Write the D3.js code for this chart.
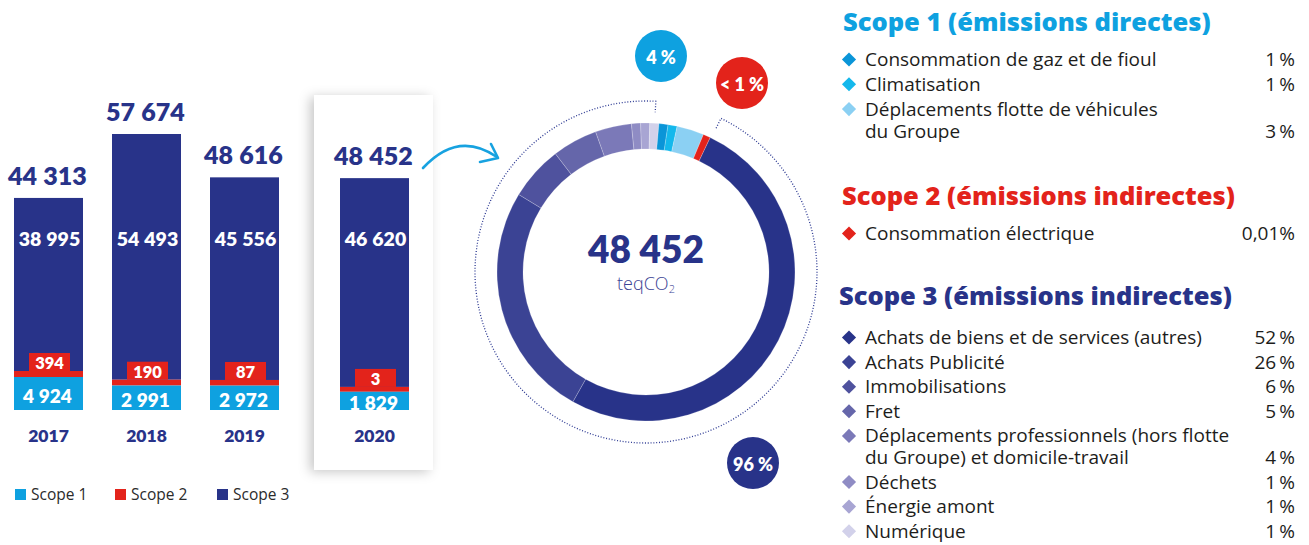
<!DOCTYPE html>
<html lang="fr">
<head>
<meta charset="utf-8">
<script src="https://cdn.jsdelivr.net/npm/d3@7"></script>
<style>
  html, body { margin: 0; padding: 0; background: #fff; }
  svg { display: block; font-family: Lato, "Open Sans", sans-serif; }
  .wide { font-family: "Open Sans", Lato, sans-serif; }
</style>
</head>
<body>
<svg id="chart" width="1309" height="545"></svg>
<script>
// ---- Emissions by year (teqCO2) ----
const years = [2017, 2018, 2019, 2020];
const scope1 = [4924, 2991, 2972, 1829];
const scope2 = [394, 190, 87, 3];
const scope3 = [38995, 54493, 45556, 46620];
const totals = [44313, 57674, 48616, 48452];
const highlightYear = 2020;

// ---- 2020 breakdown (% of total) ----
const scope1Items = [["Consommation de gaz et de fioul"], ["Climatisation"], ["Déplacements flotte de véhicules", "du Groupe"]];
const scope1Shares = [1, 1, 3];
const scope1Colors = ["#0a95d8", "#14b8ec", "#8bd0f3"];

const scope2Items = [["Consommation électrique"]];
const scope2Shares = [0.01];
const scope2Colors = ["#e3231b"];

const scope3Items = [["Achats de biens et de services (autres)"], ["Achats Publicité"], ["Immobilisations"], ["Fret"],
  ["Déplacements professionnels (hors flotte", "du Groupe) et domicile-travail"], ["Déchets"], ["Énergie amont"], ["Numérique"]];
const scope3Shares = [52, 26, 6, 5, 4, 1, 1, 1];
const scope3Colors = ["#283389", "#3b4394", "#4f529e", "#6566aa", "#7b79b8", "#8f8cc4", "#a8a5d3", "#d2d1ea"];

const scopeBadges = ["4 %", "< 1 %", "96 %"];
const scopeNames = ["Scope 1", "Scope 2", "Scope 3"];
const scopeTitles = ["Scope 1 (émissions directes)", "Scope 2 (émissions indirectes)", "Scope 3 (émissions indirectes)"];
const scopeColors = ["#0ea1e0", "#e3231b", "#283389"];
const grandTotal = "48 452";

const NAVY = "#283389";
const svg = d3.select("#chart");
const fmt = v => d3.format(",")(v).replace(/,/g, "\u202f");

const defs = svg.append("defs");
const shadow = defs.append("filter").attr("id", "panelShadow")
  .attr("x", "-30%").attr("y", "-10%").attr("width", "150%").attr("height", "120%");
shadow.append("feDropShadow").attr("dx", -4).attr("dy", 2).attr("stdDeviation", 6)
  .attr("flood-color", "#000").attr("flood-opacity", 0.22);

// ================= Stacked bars =================
const x = d3.scaleBand().domain(years).range([14, 377]).paddingInner(0.296).paddingOuter(0);
const xPos = yr => x(yr) + (yr === highlightYear ? 32 : 0);
const bw = x.bandwidth();
const baseY = 410;
const y = d3.scaleLinear().domain([0, d3.max(totals)]).range([baseY, 134]);
// small segments are drawn on compressed scales so they stay legible
const h1 = d3.scalePow().exponent(0.6).domain([0, d3.max(scope1)]).range([0, 33]);
const h2 = d3.scaleLog().domain([1, d3.max(scope2)]).range([4.6, 6]).clamp(true);

// highlight panel behind the latest year
svg.append("rect")
  .attr("x", xPos(highlightYear) - 26).attr("y", 95)
  .attr("width", bw + 50).attr("height", 375)
  .attr("fill", "#fff").attr("filter", "url(#panelShadow)");

const rows = years.map((yr, i) => {
  const s1Top = baseY - h1(scope1[i]);
  const s2Top = s1Top - h2(scope2[i]);
  return { yr, i, s1Top, s2Top, top: y(totals[i]) };
});

const g = svg.append("g");
const bars = g.selectAll("g.bar").data(rows).join("g").attr("class", "bar");

bars.append("rect").attr("x", d => xPos(d.yr)).attr("width", bw)
  .attr("y", d => d.top).attr("height", d => d.s2Top - d.top).attr("fill", NAVY);
bars.append("rect").attr("x", d => xPos(d.yr)).attr("width", bw)
  .attr("y", d => d.s2Top).attr("height", d => d.s1Top - d.s2Top).attr("fill", scopeColors[1]);
bars.append("rect").attr("x", d => xPos(d.yr)).attr("width", bw)
  .attr("y", d => d.s1Top).attr("height", d => baseY - d.s1Top).attr("fill", scopeColors[0]);

// scope 2 tag box
const tagW = 41, tagH = 18;
bars.append("rect").attr("x", d => xPos(d.yr) + bw / 2 - tagW / 2 + 1).attr("width", tagW)
  .attr("y", d => d.s2Top - tagH).attr("height", tagH).attr("fill", scopeColors[1]);
bars.append("text").attr("x", d => xPos(d.yr) + bw / 2 + 1).attr("y", d => d.s2Top - tagH / 2 + 1)
  .attr("text-anchor", "middle").attr("dominant-baseline", "central")
  .attr("fill", "#fff").attr("font-weight", 800).attr("font-size", 16.5)
  .text(d => fmt(scope2[d.i]));

// scope 3 value
bars.append("text").attr("x", d => xPos(d.yr) + bw / 2 + 1).attr("y", 246)
  .attr("text-anchor", "middle").attr("fill", "#fff").attr("font-weight", 800).attr("font-size", 19.5)
  .text(d => fmt(scope3[d.i]));

// scope 1 value
bars.append("text").attr("x", d => xPos(d.yr) + bw / 2 - 1).attr("y", d => (d.s1Top + baseY) / 2 + 2)
  .attr("text-anchor", "middle").attr("dominant-baseline", "central")
  .attr("fill", "#fff").attr("font-weight", 800).attr("font-size", 19)
  .text(d => fmt(scope1[d.i]));

// totals
bars.append("text").attr("x", d => xPos(d.yr) + bw / 2 - 1).attr("y", d => d.top - 13)
  .attr("text-anchor", "middle").attr("fill", NAVY).attr("font-weight", 800).attr("font-size", 25)
  .text(d => fmt(totals[d.i]));

// year axis labels
bars.append("text").attr("x", d => xPos(d.yr) + bw / 2).attr("y", 442)
  .attr("text-anchor", "middle").attr("fill", NAVY).attr("font-weight", 800).attr("font-size", 17.5)
  .text(d => d.yr);

// bar legend
const legX = [15, 115, 217];
const leg = svg.append("g").selectAll("g").data(scopeNames).join("g")
  .attr("transform", (d, i) => `translate(${legX[i]},489)`);
leg.append("rect").attr("width", 11).attr("height", 11).attr("fill", (d, i) => scopeColors[i]);
leg.append("text").attr("class", "wide").attr("x", 16).attr("y", 11).attr("font-size", 15.5)
  .attr("fill", "#2b2b2b").text(d => d);

// arrow to the donut
svg.append("path").attr("d", "M423,168 Q458,130 497,157")
  .attr("fill", "none").attr("stroke", "#17a2e0").attr("stroke-width", 2.6).attr("stroke-linecap", "round");
svg.append("path").attr("d", "M491,144 L498,158 L480,162")
  .attr("fill", "none").attr("stroke", "#17a2e0").attr("stroke-width", 2.6)
  .attr("stroke-linecap", "round").attr("stroke-linejoin", "round");

// ================= Donut =================
const cx = 646, cy = 272;
const slices = [
  ...scope3Shares.map((v, i) => ({ v, c: scope3Colors[i] })),
  ...scope1Shares.map((v, i) => ({ v, c: scope1Colors[i] })),
  ...scope2Shares.map((v, i) => ({ v, c: scope2Colors[i] }))
];
const deg = Math.PI / 180;
const minShare = 0.8; // smallest slice drawn so it stays visible
const pie = d3.pie().sort(null).value(d => Math.max(d.v, minShare))
  .startAngle(25.5 * deg).endAngle(25.5 * deg + 2 * Math.PI);
const arc = d3.arc().innerRadius(123).outerRadius(149);
const donut = svg.append("g").attr("transform", `translate(${cx},${cy})`);
donut.selectAll("path").data(pie(slices)).join("path")
  .attr("d", arc).attr("fill", d => d.data.c)
  .attr("stroke", "rgba(255,255,255,0.35)").attr("stroke-width", 0.6);

// dotted bracket around the ring
const rB = 171, a0 = 26 * deg, a1 = 363.3 * deg;
const p = d3.path();
const pt = (r, a) => [r * Math.sin(a), -r * Math.cos(a)];
p.moveTo(...pt(rB - 11, a0));
p.lineTo(...pt(rB, a0));
p.arc(0, 0, rB, a0 - Math.PI / 2, a1 - Math.PI / 2, false);
p.lineTo(...pt(rB - 11, a1));
donut.append("path").attr("d", p.toString()).attr("fill", "none")
  .attr("stroke", "#2d3a93").attr("stroke-width", 1.3).attr("stroke-dasharray", "1 1.8");

donut.append("text").attr("y", -9).attr("text-anchor", "middle")
  .attr("fill", NAVY).attr("font-weight", 800).attr("font-size", 37).text(grandTotal);
const unit = donut.append("text").attr("class", "wide").attr("y", 18).attr("text-anchor", "middle")
  .attr("fill", "#3b4394").attr("font-weight", 300).attr("font-size", 18);
unit.append("tspan").text("teqCO");
unit.append("tspan").attr("font-size", 11).attr("dy", 3).text("2");

// scope share badges
const badgePos = [[661, 56], [742, 83], [753, 463]];
const badges = svg.append("g").selectAll("g").data(scopeBadges).join("g")
  .attr("transform", (d, i) => `translate(${badgePos[i][0]},${badgePos[i][1]})`);
badges.append("circle").attr("r", 26).attr("fill", (d, i) => scopeColors[i]);
badges.append("text").attr("text-anchor", "middle").attr("dominant-baseline", "central").attr("y", 1)
  .attr("fill", "#fff").attr("font-weight", 800).attr("font-size", 18).text(d => d);

// ================= Breakdown legend =================
const pctFmt = v => v < 1 ? v.toFixed(2).replace(".", ",") + "%" : v + "\u2009%";
const groups = [
  { title: scopeTitles[0], color: scopeColors[0], items: scope1Items, shares: scope1Shares, colors: scope1Colors, tx: 843, ty: 31, iy: 66, step: 24.8, wrap: 22 },
  { title: scopeTitles[1], color: scopeColors[1], items: scope2Items, shares: scope2Shares, colors: scope2Colors, tx: 842, ty: 205, iy: 240, step: 24.8, wrap: 22 },
  { title: scopeTitles[2], color: scopeColors[2], items: scope3Items, shares: scope3Shares, colors: scope3Colors, tx: 839, ty: 305, iy: 344, step: 24.6, wrap: 21.5 }
];
const lg = svg.append("g");
groups.forEach(gr => {
  lg.append("text").attr("class", "wide").attr("x", gr.tx).attr("y", gr.ty).attr("fill", gr.color)
    .attr("font-weight", 800).attr("font-size", 25.5).text(gr.title);
  let yy = gr.iy;
  gr.items.forEach((lines, k) => {
    lg.append("rect").attr("x", -5).attr("y", -5).attr("width", 10).attr("height", 10)
      .attr("fill", gr.colors[k])
      .attr("transform", `translate(849,${yy - 6.5}) rotate(45)`);
    const t = lg.append("text").attr("class", "wide").attr("y", yy).attr("font-size", 19).attr("fill", "#1d1d1b");
    lines.forEach((ln, j) => {
      t.append("tspan").attr("x", 865).attr("dy", j === 0 ? 0 : gr.wrap).text(ln);
    });
    const lastY = yy + (lines.length - 1) * gr.wrap;
    lg.append("text").attr("class", "wide").attr("x", 1295).attr("y", lastY).attr("text-anchor", "end")
      .attr("font-size", 19).attr("fill", "#1d1d1b").text(pctFmt(gr.shares[k]));
    yy = lastY + gr.step;
  });
});
</script>
</body>
</html>
